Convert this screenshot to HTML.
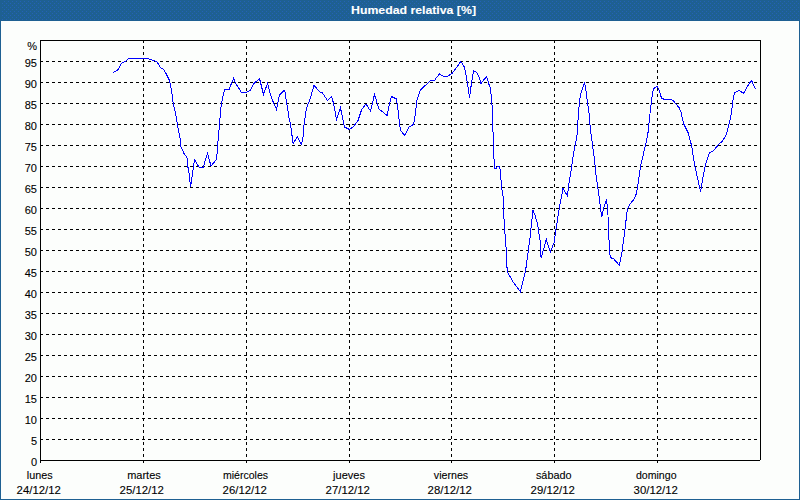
<!DOCTYPE html>
<html><head><meta charset="utf-8">
<style>
html,body{margin:0;padding:0;width:800px;height:500px;overflow:hidden;background:#fcfefc;}
svg{display:block;}
text{font-family:"Liberation Sans",sans-serif;font-size:11px;fill:#000;stroke:#000;stroke-width:0.1px;}
.yl{text-anchor:end;}
.xl{text-anchor:middle;}
.g{stroke:#000;stroke-width:1;stroke-dasharray:3 3;shape-rendering:crispEdges;}
.t{font-weight:bold;fill:#fff;stroke:#fff;text-anchor:start;}
</style></head><body>
<svg width="800" height="500" viewBox="0 0 800 500">
<defs><pattern id="dith" x="0" y="0" width="4" height="4" patternUnits="userSpaceOnUse"><rect width="4" height="4" fill="#1e6092"/><rect x="0" y="1" width="1" height="1" fill="#2462b6"/><rect x="2" y="3" width="1" height="1" fill="#2462b6"/></pattern></defs>
<rect x="0" y="0" width="800" height="500" fill="#1e6092"/>
<rect x="1" y="0" width="798" height="20" fill="url(#dith)" shape-rendering="crispEdges"/>
<rect x="1" y="21" width="798" height="478" fill="#fcfefc"/>
<text x="351" y="14" class="t" textLength="125" lengthAdjust="spacingAndGlyphs">Humedad relativa [%]</text>
<line x1="40" y1="439.5" x2="758" y2="439.5" class="g"/>
<line x1="40" y1="418.5" x2="758" y2="418.5" class="g"/>
<line x1="40" y1="397.5" x2="758" y2="397.5" class="g"/>
<line x1="40" y1="376.5" x2="758" y2="376.5" class="g"/>
<line x1="40" y1="355.5" x2="758" y2="355.5" class="g"/>
<line x1="40" y1="334.5" x2="758" y2="334.5" class="g"/>
<line x1="40" y1="313.5" x2="758" y2="313.5" class="g"/>
<line x1="40" y1="292.5" x2="758" y2="292.5" class="g"/>
<line x1="40" y1="271.5" x2="758" y2="271.5" class="g"/>
<line x1="40" y1="250.5" x2="758" y2="250.5" class="g"/>
<line x1="40" y1="229.5" x2="758" y2="229.5" class="g"/>
<line x1="40" y1="208.5" x2="758" y2="208.5" class="g"/>
<line x1="40" y1="187.5" x2="758" y2="187.5" class="g"/>
<line x1="40" y1="166.5" x2="758" y2="166.5" class="g"/>
<line x1="40" y1="145.5" x2="758" y2="145.5" class="g"/>
<line x1="40" y1="124.5" x2="758" y2="124.5" class="g"/>
<line x1="40" y1="103.5" x2="758" y2="103.5" class="g"/>
<line x1="40" y1="82.5" x2="758" y2="82.5" class="g"/>
<line x1="40" y1="61.5" x2="758" y2="61.5" class="g"/>
<line x1="143.5" y1="40" x2="143.5" y2="460" class="g"/>
<rect x="143" y="461" width="1" height="2" fill="#000"/>
<line x1="246.5" y1="40" x2="246.5" y2="460" class="g"/>
<rect x="246" y="461" width="1" height="2" fill="#000"/>
<line x1="349.5" y1="40" x2="349.5" y2="460" class="g"/>
<rect x="349" y="461" width="1" height="2" fill="#000"/>
<line x1="451.5" y1="40" x2="451.5" y2="460" class="g"/>
<rect x="451" y="461" width="1" height="2" fill="#000"/>
<line x1="554.5" y1="40" x2="554.5" y2="460" class="g"/>
<rect x="554" y="461" width="1" height="2" fill="#000"/>
<line x1="657.5" y1="40" x2="657.5" y2="460" class="g"/>
<rect x="657" y="461" width="1" height="2" fill="#000"/>
<g shape-rendering="crispEdges" fill="#000">
<rect x="40" y="40" width="721" height="1"/>
<rect x="40" y="40" width="1" height="423"/>
<rect x="40" y="460" width="720" height="1"/>
<rect x="760" y="40" width="1" height="420"/>
</g>
<polyline points="113,72.5 114.5,71.5 117,70.5 118.6,69 119.5,66.8 120.6,64.6 121.5,63.2 123,62.4 125,61.5 126.5,60.6 127.6,59.3 130,58.4 148,58.4 150.6,59.6 153.8,60.4 157,62 160.2,67.2 161.8,68.4 163.5,69.5 165.5,72.5 169,79.5 170,83 171.5,90 173,102 176.5,118 177.5,125 180,138 181,147 184,153.5 186.5,156.5 187.5,160 188,167.5 189.5,176 190.5,187 192,177 193,170 194.5,159.5 199,167 203.5,167 204.5,162.5 207.5,153.5 211,166 216,160 217,154 217.5,145 218,141 219,130 220,118 220.5,110 222.5,98 224,92 225,89.5 229,89.5 233.5,78.5 236.5,85 238,87 241.5,92.5 246,92.5 250.5,90 254,83.5 259.5,78.5 263.5,94.5 267.5,83.5 271.5,98 276.5,109.5 279.5,95 284,90.5 285,92 287,105 289.4,120 290.3,122.5 291.6,132.5 293.1,143.4 297.5,136.6 301.3,144.4 302.8,140 303.8,126.3 306.5,108 309,102 310,99 314,85.5 320,92 322.5,93 327.5,100.5 331.5,96.5 333.5,103 336.5,119.5 340.5,108 344.5,127 349.5,129.5 354,126 358,120.5 361.5,110 366,104 370.5,111 374.5,94.5 379,109 387,115.5 389.5,104 391.5,96.5 393.5,97.5 396.5,99 398,110 399.5,123 400.5,130 404.5,135.5 409,127 413.5,124.5 414.5,120 417,100 418.5,95 420.5,90 430.5,80.5 434.5,80.5 436.5,77.5 439.5,74 444,76.5 447,76.5 452,73.5 460.5,62 462,63 464.5,67.5 466,75 467.5,84 469.5,97.5 471.5,83 473.5,70.5 476.5,72.5 478.5,75.5 481,83.5 486.5,76.5 489,84.5 490.5,88.5 492,105 493.5,145 494,159 494.5,168.5 496,168.5 497.5,166.5 499.5,166.5 500.5,171.5 501,180 502.5,195 503.5,197.5 503.5,209 504.5,228 505.5,240 506,246.7 506.7,262.3 507.3,272 513.8,283 520.3,291.6 525.5,271.4 528.1,252 530,238 531.5,223 533,210.5 535,215 537.5,224 540,240 541.1,258 546.3,239.5 550.2,252 554.1,242.8 556,229.5 559.5,206.5 563,188.5 567.5,196 568.5,186 570.5,174 573.5,154 575.5,144 577,135 578.5,113 579.5,102 580.5,95 582.5,88 584.5,83 585.5,87 586.5,95 587.5,102.5 588.5,109 589.5,117 589.5,120 591,134 592.5,145 594.5,160 596,175 598,188.5 599.5,200 601.7,217 604.5,205 606.5,199.5 607.5,209 608,215 608.1,223.2 608.8,237.2 610.2,257.5 613.7,258.9 619.3,265.2 622.1,251.2 624.9,230.2 627,212 628.4,207 629.5,204.5 634,199.2 636.2,194 637.7,186.5 640.7,165.5 646,143 648.5,130 649,123 650.5,109 651.5,101.5 652.5,93 653.5,89 655,87.5 657.5,86.5 659,90 661.5,98 664.5,99.5 670.5,99.5 673,100.5 676,104 679,107.5 681,112 683.5,123.5 688,132.5 691.7,146 694.7,165.5 700.6,191.8 703,177.4 705.4,164.6 709.4,152.6 713.4,151 719,143.8 722.2,141.4 726.2,135 728.6,126.2 731.5,113 732.5,104 733.5,96.5 735,92.5 739.5,90.5 743.5,93.5 747,87 751.5,80.5 755.5,89" fill="none" stroke="#0000ff" stroke-width="1" shape-rendering="crispEdges"/>
<text x="37" y="466" class="yl">0</text>
<text x="37" y="445" class="yl">5</text>
<text x="37" y="424" class="yl">10</text>
<text x="37" y="403" class="yl">15</text>
<text x="37" y="382" class="yl">20</text>
<text x="37" y="361" class="yl">25</text>
<text x="37" y="340" class="yl">30</text>
<text x="37" y="319" class="yl">35</text>
<text x="37" y="298" class="yl">40</text>
<text x="37" y="277" class="yl">45</text>
<text x="37" y="256" class="yl">50</text>
<text x="37" y="235" class="yl">55</text>
<text x="37" y="214" class="yl">60</text>
<text x="37" y="193" class="yl">65</text>
<text x="37" y="172" class="yl">70</text>
<text x="37" y="151" class="yl">75</text>
<text x="37" y="130" class="yl">80</text>
<text x="37" y="109" class="yl">85</text>
<text x="37" y="88" class="yl">90</text>
<text x="37" y="67" class="yl">95</text>
<text x="37" y="50" class="yl">%</text>
<text x="39.75" y="479" class="xl" textLength="25.8" lengthAdjust="spacingAndGlyphs">lunes</text>
<text x="38.75" y="494" class="xl" textLength="44.3" lengthAdjust="spacingAndGlyphs">24/12/12</text>
<text x="144" y="479" class="xl" textLength="33.6" lengthAdjust="spacingAndGlyphs">martes</text>
<text x="141.75" y="494" class="xl" textLength="44.3" lengthAdjust="spacingAndGlyphs">25/12/12</text>
<text x="245.5" y="479" class="xl" textLength="45" lengthAdjust="spacingAndGlyphs">miércoles</text>
<text x="244.75" y="494" class="xl" textLength="44.3" lengthAdjust="spacingAndGlyphs">26/12/12</text>
<text x="349" y="479" class="xl" textLength="31.8" lengthAdjust="spacingAndGlyphs">jueves</text>
<text x="347.75" y="494" class="xl" textLength="44.3" lengthAdjust="spacingAndGlyphs">27/12/12</text>
<text x="451" y="479" class="xl" textLength="34.4" lengthAdjust="spacingAndGlyphs">viernes</text>
<text x="449.75" y="494" class="xl" textLength="44.3" lengthAdjust="spacingAndGlyphs">28/12/12</text>
<text x="553.75" y="479" class="xl" textLength="35.6" lengthAdjust="spacingAndGlyphs">sábado</text>
<text x="552.75" y="494" class="xl" textLength="44.3" lengthAdjust="spacingAndGlyphs">29/12/12</text>
<text x="656.25" y="479" class="xl" textLength="40.6" lengthAdjust="spacingAndGlyphs">domingo</text>
<text x="655.75" y="494" class="xl" textLength="44.3" lengthAdjust="spacingAndGlyphs">30/12/12</text>
</svg>
</body></html>
